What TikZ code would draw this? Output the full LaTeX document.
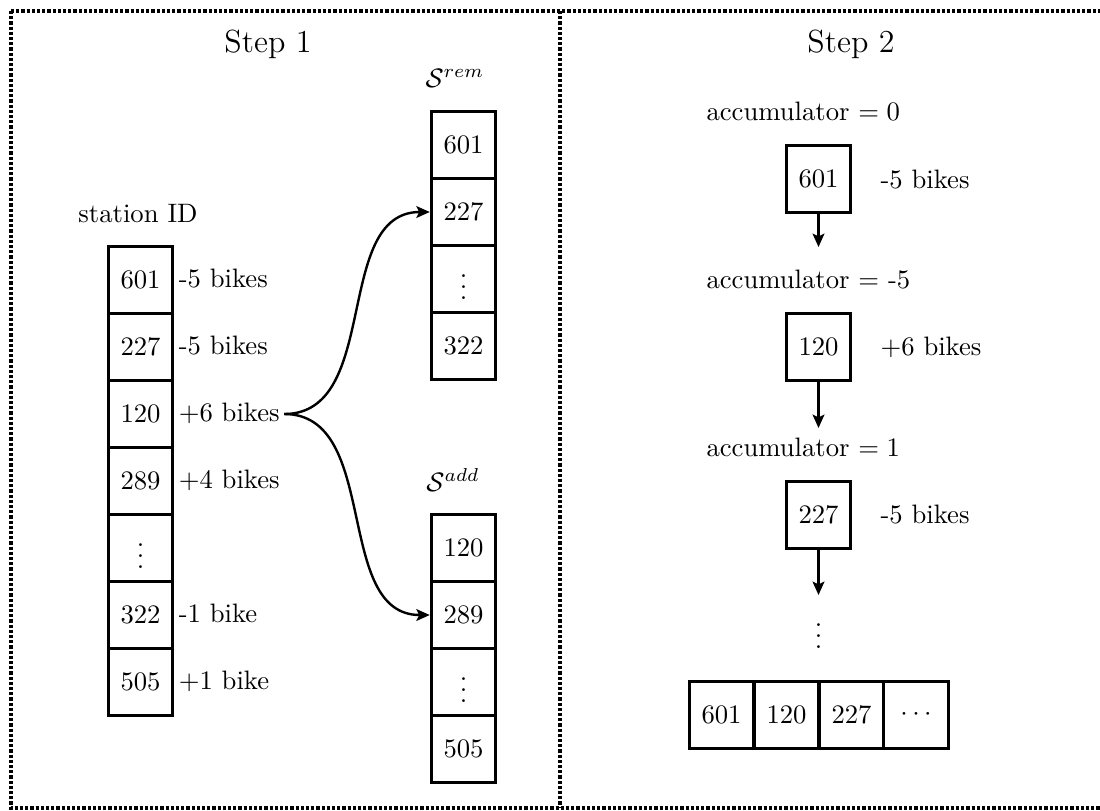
\documentclass[tikz,border=0pt]{standalone}
\usetikzlibrary{arrows.meta}

\begin{document}
\begin{tikzpicture}[
  x=0.375pt, y=-0.375pt,
  cell/.style={draw, line width=1.1pt, minimum width=24.2pt, minimum height=25pt,
    inner sep=0pt},
  lab/.style={inner sep=1.5pt, anchor=west, text height=1.6ex, text depth=0.25ex},
  title/.style={font=\large},
  arr/.style={line width=0.9pt, -{Stealth[length=5pt, width=4.4pt, inset=1pt]}},
  frame/.style={line width=1.3pt, dash pattern=on 1.2pt off 0.75pt}
]
\useasboundingbox (0,0) rectangle (1100,810);

% dotted frame and divider
\draw[frame] (11,11) -- (1106,11);
\draw[frame] (11,11) -- (11,808) -- (1106,808);
\draw[frame] (560,11) -- (560,808);

% ---------------- Step 1 ----------------
\node[title] (s1) at (268,44) {Step 1};
\node (sid) at (138,214) {station ID};

\node[cell] (l1) at (140.5,280) {601};
\node[cell] (l2) at (140.5,347) {227};
\node[cell] (l3) at (140.5,414) {120};
\node[cell] (l4) at (140.5,481) {289};
\node[cell] (l5) at (140.5,548) {$\vdots$};
\node[cell] (l6) at (140.5,615) {322};
\node[cell] (l7) at (140.5,682) {505};

\node[lab] (d1) at (l1.east) {-5 bikes};
\node[lab] (d2) at (l2.east) {-5 bikes};
\node[lab] (d3) at (l3.east) {+6 bikes};
\node[lab] (d4) at (l4.east) {+4 bikes};
\node[lab] (d6) at (l6.east) {-1 bike};
\node[lab] (d7) at (l7.east) {+1 bike};

\node (srem) at (455,78) {$\mathcal{S}^{rem}$};
\node[cell] (r1) at (463.5,145) {601};
\node[cell] (r2) at (463.5,212) {227};
\node[cell] (r3) at (463.5,279) {$\vdots$};
\node[cell] (r4) at (463.5,346) {322};

\node (sadd) at (453,480) {$\mathcal{S}^{add}$};
\node[cell] (a1) at (463.5,548) {120};
\node[cell] (a2) at (463.5,615) {289};
\node[cell] (a3) at (463.5,682) {$\vdots$};
\node[cell] (a4) at (463.5,749) {505};

\draw[arr] (d3.east) to[out=0, in=180] (r2.west);
\draw[arr] (d3.east) to[out=0, in=180] (a2.west);

% ---------------- Step 2 ----------------
\node[title] (s2) at (851,44) {Step 2};

\node[lab, inner sep=0pt] (acc1) at (706,113) {accumulator $= 0$};
\node[cell] (b1) at (818.5,179) {601};
\node[lab, inner sep=0pt] (e1) at (880,181) {-5 bikes};
\coordinate (t1) at (818.5,247);

\node[lab, inner sep=0pt] (acc2) at (706,281) {accumulator $=$ -5};
\node[cell] (b2) at (818.5,347) {120};
\node[lab, inner sep=0pt] (e2) at (880,348) {+6 bikes};
\coordinate (t2) at (818.5,428);

\node[lab, inner sep=0pt] (acc3) at (706,449) {accumulator $= 1$};
\node[cell] (b3) at (818.5,515) {227};
\node[lab, inner sep=0pt] (e3) at (880,516) {-5 bikes};
\coordinate (t3) at (818.5,595);

\node (dots) at (818.5,628) {$\vdots$};

\draw[arr] (b1.south) -- (t1);
\draw[arr] (b2.south) -- (t2);
\draw[arr] (b3.south) -- (t3);

\node[cell] (o1) at (721.5,715) {601};
\node[cell] (o2) at (786.5,715) {120};
\node[cell] (o3) at (851.5,715) {227};
\node[cell] (o4) at (916,715) {$\cdots$};
\end{tikzpicture}
\end{document}
